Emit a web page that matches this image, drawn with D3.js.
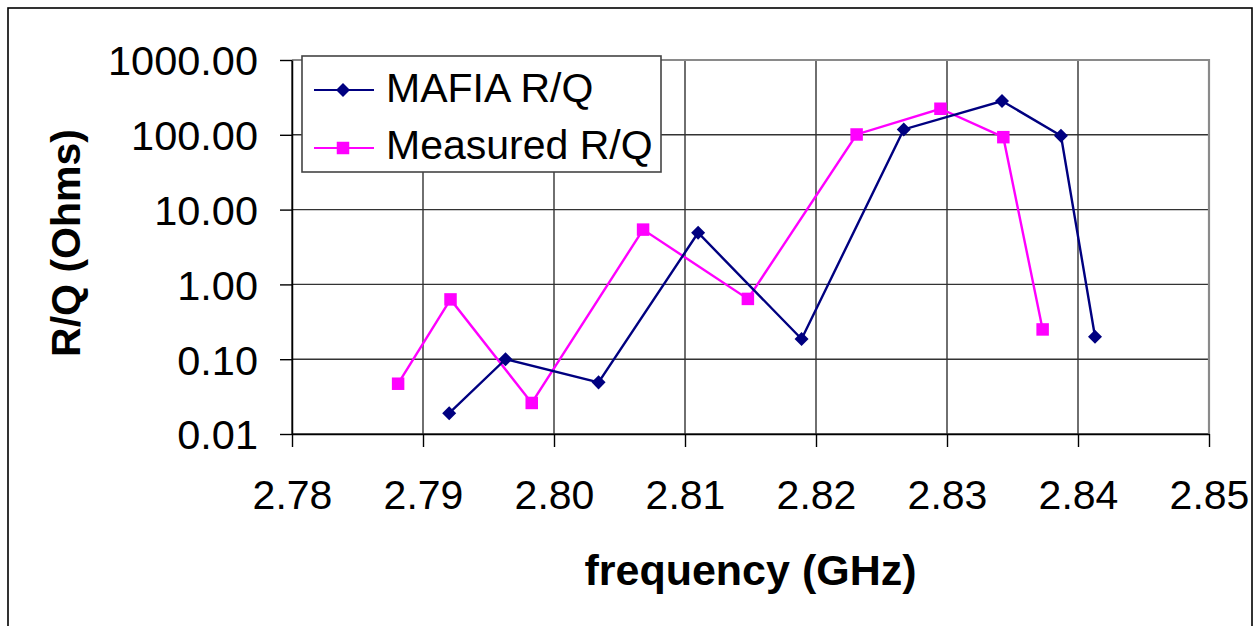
<!DOCTYPE html>
<html>
<head>
<meta charset="utf-8">
<script src="https://cdn.jsdelivr.net/npm/d3@7"></script>
<style>
  html, body { margin: 0; padding: 0; background: #fff; }
  svg { display: block; font-family: "Liberation Sans", Arial, sans-serif; }
</style>
</head>
<body>
<svg id="chart" width="1254" height="626"></svg>
<script>
// R/Q of the cavity modes vs. frequency: simulation and bench measurement
const mafiaFreq    = [2.7920, 2.7963, 2.8034, 2.8110, 2.8189, 2.8267, 2.8342, 2.8387, 2.8413];
const mafiaRQ      = [0.019, 0.10, 0.049, 4.9, 0.186, 118, 283, 97, 0.20];
const measuredFreq = [2.7881, 2.7921, 2.7983, 2.8068, 2.8148, 2.8231, 2.8295, 2.8343, 2.8373];
const measuredRQ   = [0.047, 0.63, 0.026, 5.4, 0.64, 101, 223, 93, 0.25];
const xTicks = [2.78, 2.79, 2.80, 2.81, 2.82, 2.83, 2.84, 2.85];
const yTicks = [0.01, 0.1, 1, 10, 100, 1000];
const seriesNames = ["MAFIA R/Q", "Measured R/Q"];

const svg = d3.select("#chart");
const plot = { left: 292, top: 60, right: 1209, bottom: 434 };

const x = d3.scaleLinear().domain([2.78, 2.85]).range([plot.left, plot.right]);
const y = d3.scaleLog().domain([0.01, 1000]).range([plot.bottom, plot.top]);

// outer chart frame
svg.append("rect")
  .attr("x", 8).attr("y", 8).attr("width", 1244).attr("height", 640)
  .attr("fill", "#fff").attr("stroke", "#000").attr("stroke-width", 1.6);

// gridlines
const grid = svg.append("g");
grid.selectAll("line.h").data(yTicks).join("line")
  .attr("x1", plot.left).attr("x2", plot.right)
  .attr("y1", d => y(d)).attr("y2", d => y(d))
  .attr("stroke", "#333").attr("stroke-width", 1.4);
grid.selectAll("line.v").data(xTicks).join("line")
  .attr("y1", plot.top).attr("y2", plot.bottom)
  .attr("x1", d => x(d)).attr("x2", d => x(d))
  .attr("stroke", "#333").attr("stroke-width", 1.4);

// plot-area border (top and right in grey)
svg.append("path")
  .attr("d", `M${plot.left},${plot.top}H${plot.right}V${plot.bottom}`)
  .attr("fill", "none").attr("stroke", "#8a8a8a").attr("stroke-width", 2.2);

// axes
const yAxis = d3.axisLeft(y).tickValues(yTicks).tickFormat(d => d.toFixed(2))
  .tickSizeInner(12).tickSizeOuter(0).tickPadding(22);
const gy = svg.append("g").attr("transform", `translate(${plot.left},0)`).call(yAxis);
gy.select(".domain").attr("stroke", "#000").attr("stroke-width", 1.5);
gy.selectAll(".tick line").attr("stroke", "#000").attr("stroke-width", 1.4);
gy.selectAll(".tick text").attr("font-size", 41.5).attr("fill", "#000")
  .attr("font-family", "Liberation Sans, Arial, sans-serif").attr("dy", "0.36em");

const xAxis = d3.axisBottom(x).tickValues(xTicks).tickFormat(d => d.toFixed(2))
  .tickSizeInner(13).tickSizeOuter(0).tickPadding(33);
const gx = svg.append("g").attr("transform", `translate(0,${plot.bottom})`).call(xAxis);
gx.select(".domain").attr("stroke", "#000").attr("stroke-width", 1.5);
gx.selectAll(".tick line").attr("stroke", "#000").attr("stroke-width", 1.4);
gx.selectAll(".tick text").attr("font-size", 41).attr("fill", "#000")
  .attr("font-family", "Liberation Sans, Arial, sans-serif");

// axis titles
svg.append("text")
  .attr("transform", `translate(80,243) rotate(-90)`)
  .attr("text-anchor", "middle").attr("font-size", 41).attr("font-weight", "bold")
  .text("R/Q (Ohms)");
svg.append("text")
  .attr("x", (plot.left + plot.right) / 2).attr("y", 585)
  .attr("text-anchor", "middle").attr("font-size", 43).attr("font-weight", "bold")
  .text("frequency (GHz)");

// series
const line = d3.line().x(d => x(d[0])).y(d => y(d[1]));
const mafia = mafiaFreq.map((f, i) => [f, mafiaRQ[i]]);
const measured = measuredFreq.map((f, i) => [f, measuredRQ[i]]);
const navy = "#000080", magenta = "#FF00FF";

const diamond = d3.symbol().type(d3.symbolDiamond2).size(125);
const square = d3.symbol().type(d3.symbolSquare).size(156);

svg.append("path").datum(measured).attr("d", line)
  .attr("fill", "none").attr("stroke", magenta).attr("stroke-width", 2.4);
svg.append("g").selectAll("path").data(measured).join("path")
  .attr("d", square).attr("fill", magenta)
  .attr("transform", d => `translate(${x(d[0])},${y(d[1])})`);

svg.append("path").datum(mafia).attr("d", line)
  .attr("fill", "none").attr("stroke", navy).attr("stroke-width", 2.4);
svg.append("g").selectAll("path").data(mafia).join("path")
  .attr("d", diamond).attr("fill", navy)
  .attr("transform", d => `translate(${x(d[0])},${y(d[1])})`);

// legend
const legend = svg.append("g");
legend.append("rect")
  .attr("x", 302).attr("y", 56).attr("width", 359).attr("height", 116)
  .attr("fill", "#fff").attr("stroke", "#444").attr("stroke-width", 1.6);
const legendItems = [
  { name: seriesNames[0], color: navy, sym: diamond, cy: 90, base: 102 },
  { name: seriesNames[1], color: magenta, sym: square, cy: 148, base: 159 }
];
legendItems.forEach(it => {
  legend.append("line").attr("x1", 314).attr("x2", 374).attr("y1", it.cy).attr("y2", it.cy)
    .attr("stroke", it.color).attr("stroke-width", 2.2);
  legend.append("path").attr("d", it.sym).attr("fill", it.color)
    .attr("transform", `translate(343,${it.cy})`);
  legend.append("text").attr("x", 386).attr("y", it.base)
    .attr("font-size", 41).attr("fill", "#000").text(it.name);
});
</script>
</body>
</html>
